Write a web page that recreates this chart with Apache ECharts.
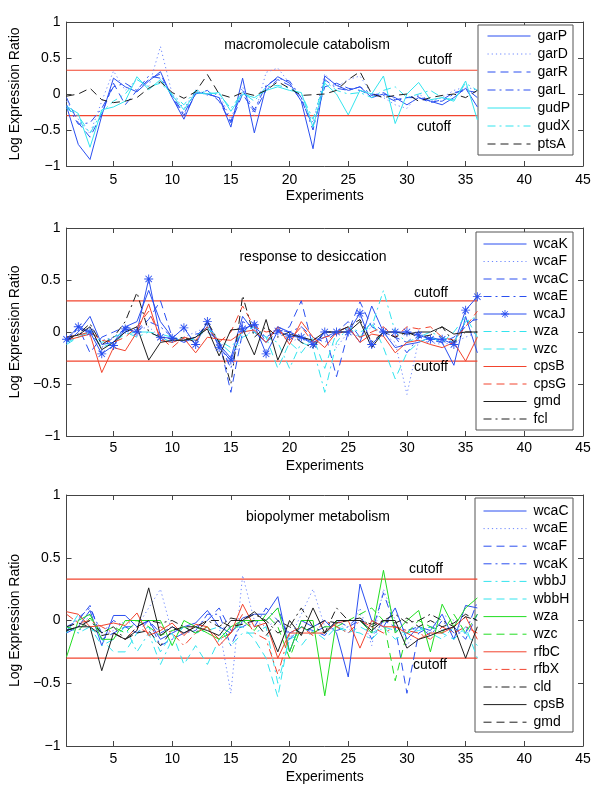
<!DOCTYPE html>
<html>
<head>
<meta charset="utf-8">
<script src="https://cdn.jsdelivr.net/npm/echarts@6/dist/echarts.min.js"></script>
<style>
html,body{margin:0;padding:0;background:#fff;}
#chart{width:600px;height:794px;}
</style>
</head>
<body>
<div id="chart"></div>
<script>
// ---------- data ----------
const experiments = [1,2,3,4,5,6,7,8,9,10,11,12,13,14,15,16,17,18,19,20,21,22,23,24,25,26,27,28,29,30,31,32,33,34,35,36];
const xTickValues = [5,10,15,20,25,30,35,40,45];
const yTickValues = [-1,-0.5,0,0.5,1];

const panelTitles = ['macromolecule catabolism','response to desiccation','biopolymer metabolism'];
const cutoffs1 = [0.33,-0.30];
const cutoffs2 = [0.30,-0.28];
const cutoffs3 = [0.33,-0.30];

// panel 1: macromolecule catabolism
const p1_garP = [-0.17,-0.70,-0.91,-0.30,0.22,0.10,0.03,0.18,0.31,-0.05,-0.35,0.02,0.00,-0.05,-0.46,0.22,-0.54,0.10,0.24,0.15,-0.10,-0.76,0.25,0.12,0.05,0.10,-0.05,0.00,-0.05,-0.15,-0.05,-0.10,-0.15,-0.05,0.08,-0.18];
const p1_garD = [-0.10,-0.35,-0.55,-0.10,0.32,0.05,0.20,0.10,0.66,0.00,-0.20,0.05,-0.02,0.00,-0.35,0.10,-0.30,0.30,0.36,0.15,-0.05,-0.40,0.28,0.10,0.20,0.25,0.00,-0.05,-0.15,-0.20,0.00,-0.10,-0.05,0.05,0.10,0.05];
const p1_garR = [-0.05,-0.40,-0.60,-0.28,0.15,-0.15,0.05,0.20,0.28,-0.05,-0.30,0.00,0.05,-0.10,-0.40,0.00,-0.25,0.05,0.20,0.12,-0.08,-0.45,0.10,0.15,0.08,0.05,-0.02,0.02,-0.08,-0.05,-0.05,-0.12,-0.08,0.02,0.05,0.02];
const p1_garL = [-0.15,-0.42,-0.40,-0.20,0.10,0.15,0.05,0.25,0.22,-0.02,-0.28,0.05,0.00,-0.05,-0.38,0.05,-0.22,0.12,0.22,0.18,-0.05,-0.50,0.20,0.08,0.05,0.10,0.00,-0.02,-0.10,-0.05,-0.03,-0.10,-0.10,0.00,0.08,-0.05];
const p1_gudP = [-0.17,-0.27,-0.74,-0.22,-0.18,-0.10,0.24,0.06,0.20,-0.02,-0.22,0.02,0.00,0.02,-0.24,0.00,-0.05,0.05,0.10,0.05,0.02,-0.46,0.15,0.00,-0.29,0.05,0.00,0.25,-0.41,0.00,0.16,-0.08,-0.05,-0.10,0.18,-0.36];
const p1_gudX = [-0.20,-0.30,-0.55,-0.25,-0.10,0.00,0.20,0.10,0.15,0.00,-0.15,0.05,0.02,0.00,-0.20,0.02,-0.10,0.10,0.12,0.08,0.00,-0.35,0.18,0.05,0.00,0.02,-0.05,0.05,0.10,-0.05,0.00,0.05,-0.05,-0.08,0.15,0.05];
const p1_ptsA = [-0.03,0.00,0.08,-0.08,-0.12,-0.10,-0.05,0.08,0.17,0.02,-0.06,0.03,0.27,0.00,-0.05,0.02,-0.02,0.05,0.17,0.08,-0.02,-0.01,0.00,0.05,0.20,0.31,0.00,-0.05,-0.02,0.00,-0.10,-0.05,-0.02,0.00,-0.05,0.05];

// panel 2: response to desiccation
const p2_wcaK = [-0.10,0.00,0.15,-0.12,-0.10,0.05,0.10,0.40,0.10,-0.05,-0.10,-0.05,0.05,-0.12,-0.25,0.15,0.00,-0.10,0.05,0.00,-0.05,-0.10,-0.05,0.00,0.05,-0.10,0.25,0.00,-0.15,-0.12,-0.10,-0.05,-0.10,-0.32,0.15,-0.20];
const p2_wcaF = [-0.05,0.02,0.00,-0.08,-0.05,0.00,0.02,0.05,-0.05,-0.10,-0.05,0.00,0.05,-0.10,-0.30,-0.05,0.02,-0.05,0.00,-0.10,-0.05,-0.08,-0.05,-0.15,0.00,-0.05,0.05,-0.02,-0.10,-0.60,-0.08,-0.10,-0.12,-0.10,-0.05,0.00];
const p2_wcaC = [-0.10,0.05,-0.20,-0.05,0.00,0.05,0.02,0.12,0.30,-0.05,-0.10,-0.02,0.00,-0.08,-0.58,0.00,0.10,-0.10,0.00,0.05,0.30,-0.15,0.00,-0.43,0.00,0.29,0.05,0.00,-0.05,-0.10,0.00,-0.08,-0.10,-0.05,0.05,0.15];
const p2_wcaE = [-0.08,0.03,0.00,-0.15,-0.05,0.03,0.00,0.10,0.05,-0.05,-0.08,-0.05,0.08,-0.10,-0.35,0.10,0.05,-0.05,0.02,0.00,0.05,-0.05,-0.10,0.00,0.10,-0.05,0.10,0.00,-0.05,-0.20,-0.05,-0.05,-0.08,-0.10,0.10,0.12];
const p2_wcaJ = [-0.07,0.05,0.00,-0.21,-0.13,0.03,0.00,0.51,-0.05,-0.06,0.04,-0.12,0.10,-0.15,-0.27,0.03,0.07,-0.21,0.01,-0.04,-0.05,-0.12,0.00,0.00,0.00,0.18,-0.12,0.00,0.00,0.00,-0.03,-0.07,-0.07,-0.12,0.21,0.34];
const p2_wza  = [-0.10,-0.05,0.00,-0.10,-0.05,0.00,-0.05,0.00,-0.02,-0.05,-0.08,-0.05,0.05,-0.08,-0.15,0.00,0.05,-0.05,-0.10,-0.35,-0.10,-0.15,-0.58,-0.10,0.05,0.00,0.05,0.40,0.00,-0.10,-0.05,0.00,-0.05,-0.10,0.10,0.15];
const p2_wzc  = [-0.12,-0.05,0.02,-0.15,-0.10,-0.02,0.00,0.00,-0.05,-0.10,-0.05,-0.08,0.05,-0.10,-0.20,-0.05,0.00,-0.05,-0.35,-0.10,-0.20,-0.05,-0.35,0.00,0.05,-0.05,0.10,-0.15,-0.45,-0.20,-0.10,-0.05,-0.10,0.00,0.15,-0.05];
const p2_cpsB = [-0.08,-0.05,-0.02,-0.39,-0.15,-0.18,0.00,0.27,-0.08,-0.10,-0.06,-0.20,-0.05,-0.07,-0.08,0.00,0.02,-0.10,0.05,-0.12,0.10,-0.05,-0.15,0.00,0.05,-0.10,-0.02,-0.04,-0.20,-0.10,-0.08,-0.12,-0.15,-0.10,-0.28,-0.05];
const p2_cpsG = [-0.05,-0.03,0.00,-0.08,-0.10,-0.05,0.05,0.20,-0.05,-0.15,-0.05,-0.08,0.05,-0.10,0.00,0.25,0.05,0.00,0.02,-0.08,0.05,-0.10,-0.05,-0.02,0.02,-0.05,0.00,0.05,-0.05,0.05,0.03,0.05,-0.05,-0.08,0.05,0.20];
const p2_gmd  = [-0.05,-0.03,0.05,-0.17,-0.10,0.00,0.05,-0.27,-0.10,-0.08,-0.08,-0.05,0.03,-0.23,0.02,0.03,-0.22,0.12,-0.27,-0.02,-0.05,-0.08,0.00,0.00,0.00,0.10,-0.15,0.00,0.00,-0.02,0.00,0.00,0.05,-0.02,0.00,0.00];
const p2_fcl  = [-0.08,-0.02,0.08,-0.12,-0.05,0.10,0.38,0.00,-0.05,-0.07,-0.05,-0.10,0.10,-0.10,-0.50,0.35,-0.05,0.05,-0.05,0.00,-0.10,-0.15,0.00,0.00,0.05,0.12,-0.10,0.00,-0.05,0.00,-0.05,-0.03,0.05,-0.10,0.00,0.00];

// panel 3: biopolymer metabolism
const p3_wcaC = [-0.10,-0.05,0.08,-0.20,0.04,0.04,-0.05,0.00,-0.15,-0.10,-0.05,-0.02,0.08,-0.05,-0.10,0.02,0.05,0.05,0.19,-0.25,0.00,-0.05,0.00,-0.10,-0.45,0.29,0.00,-0.05,0.10,-0.15,-0.05,-0.08,0.05,-0.15,0.12,0.10];
const p3_wcaE = [-0.05,-0.10,0.05,-0.12,-0.08,0.00,-0.05,0.10,0.25,-0.10,-0.05,-0.10,0.05,-0.05,-0.58,0.36,0.00,-0.05,0.00,-0.15,0.05,0.25,-0.05,0.00,-0.10,0.10,-0.20,0.25,0.00,-0.20,-0.05,-0.10,0.05,0.00,-0.10,0.05];
const p3_wcaF = [-0.05,0.00,0.12,-0.15,-0.10,-0.05,-0.10,0.00,-0.10,-0.05,-0.10,-0.05,0.00,0.10,-0.08,-0.05,0.00,0.00,0.10,-0.15,-0.05,-0.08,-0.12,0.00,-0.05,0.00,-0.10,0.22,-0.05,-0.58,-0.10,-0.05,-0.08,-0.05,-0.15,0.05];
const p3_wcaK = [-0.08,0.02,0.10,-0.10,0.00,-0.05,-0.05,0.00,-0.20,-0.15,-0.10,-0.08,0.05,0.05,-0.20,0.00,-0.05,0.10,0.00,-0.10,-0.05,-0.10,-0.05,-0.08,-0.05,0.05,-0.15,0.00,-0.05,-0.08,-0.05,-0.12,0.00,-0.10,-0.10,0.15];
const p3_wbbJ = [-0.05,-0.10,-0.05,-0.20,-0.15,-0.05,-0.25,-0.10,-0.35,-0.15,-0.05,-0.10,-0.08,-0.05,-0.20,-0.10,-0.10,-0.05,-0.50,-0.15,-0.10,-0.05,-0.10,-0.05,-0.08,-0.10,-0.15,-0.05,-0.08,-0.10,-0.05,-0.10,-0.15,-0.05,-0.10,-0.20];
const p3_wbbH = [-0.10,0.05,-0.05,-0.15,-0.25,-0.25,-0.10,-0.05,-0.25,-0.10,-0.35,-0.20,-0.35,-0.15,-0.05,-0.05,-0.15,-0.30,-0.61,-0.10,-0.20,-0.08,-0.15,-0.05,-0.10,-0.05,-0.10,-0.05,-0.15,-0.10,-0.08,-0.05,-0.10,-0.15,-0.05,-0.30];
const p3_wza  = [-0.29,0.00,0.05,-0.15,-0.15,0.00,0.00,0.00,0.00,-0.20,0.00,-0.05,-0.10,-0.15,-0.05,0.00,0.00,0.00,0.10,-0.25,0.00,0.00,-0.60,0.00,0.00,0.00,-0.10,0.40,-0.10,0.00,0.08,-0.25,0.13,-0.05,0.10,0.18];
const p3_wzc  = [-0.05,-0.08,0.02,-0.10,-0.05,-0.10,0.00,-0.05,-0.12,-0.08,-0.05,-0.10,-0.05,-0.15,-0.10,0.00,-0.08,0.05,-0.05,-0.30,-0.05,-0.10,-0.05,-0.05,0.00,0.05,0.10,0.00,-0.48,-0.10,0.00,-0.05,-0.10,0.05,-0.10,0.05];
const p3_rfbC = [0.07,0.05,-0.05,-0.04,-0.02,-0.04,0.06,-0.12,-0.08,-0.02,-0.12,-0.03,-0.05,-0.20,-0.10,0.13,-0.05,-0.02,-0.30,-0.10,-0.10,-0.10,-0.10,-0.02,0.00,-0.22,0.00,-0.05,-0.05,-0.10,-0.15,-0.10,-0.10,-0.05,0.03,-0.15];
const p3_rfbX = [0.05,-0.02,0.00,-0.05,-0.10,-0.15,-0.05,-0.10,-0.05,-0.10,-0.20,-0.10,-0.05,-0.15,-0.10,0.05,-0.10,-0.15,-0.43,-0.10,-0.05,-0.12,0.00,-0.05,-0.10,0.00,-0.05,-0.10,-0.05,-0.08,-0.10,-0.15,-0.05,-0.10,-0.05,-0.10];
const p3_cld  = [-0.08,-0.05,0.00,-0.10,-0.05,-0.15,-0.05,0.00,-0.02,0.00,-0.05,-0.10,0.00,-0.05,0.02,0.00,0.05,0.00,-0.10,-0.05,0.10,-0.05,-0.10,0.10,0.00,0.02,-0.05,0.00,0.05,-0.02,0.00,0.05,0.00,-0.05,0.03,0.00];
const p3_cpsB = [-0.08,-0.05,-0.05,-0.40,-0.10,-0.15,-0.08,0.26,-0.12,-0.05,-0.10,-0.05,-0.08,-0.12,0.00,0.00,0.07,-0.02,-0.25,0.00,-0.12,0.10,-0.10,0.00,0.00,0.00,-0.08,0.00,0.00,-0.22,-0.15,-0.12,-0.08,-0.05,-0.30,-0.05];
const p3_gmd  = [-0.05,-0.02,-0.05,-0.12,-0.10,-0.15,-0.10,-0.08,-0.20,-0.08,-0.05,-0.05,0.00,0.00,-0.05,-0.03,0.00,-0.12,0.00,-0.05,-0.10,-0.05,0.00,-0.02,0.00,0.00,-0.03,0.00,-0.02,0.02,-0.05,0.00,-0.05,-0.02,0.05,0.00];

// ---------- styling ----------
const FONT = '"Liberation Sans", Arial, Helvetica, sans-serif';
const BLUE = '#2a4ff0', LBLUE = '#6b86ff', CYAN = '#33e4ee', RED = '#f2442e', GREEN = '#22dd22', BLACK = '#1e1e1e';
const SOLID = 'solid', DOT = [1.2,3], DASH = [8,5], DASHDOT = [8,4,2,4];
const ASTER = 'path://M0 9L20 9L20 11L0 11Z M9 0L11 0L11 20L9 20Z M2.2 3.6L3.6 2.2L17.8 16.4L16.4 17.8Z M16.4 2.2L17.8 3.6L3.6 17.8L2.2 16.4Z';

const panels = [
  { cut: cutoffs1, series: [
    ['garP', p1_garP, BLUE, SOLID], ['garD', p1_garD, LBLUE, DOT], ['garR', p1_garR, BLUE, DASH],
    ['garL', p1_garL, BLUE, DASHDOT], ['gudP', p1_gudP, CYAN, SOLID], ['gudX', p1_gudX, CYAN, DASHDOT],
    ['ptsA', p1_ptsA, BLACK, DASH]]},
  { cut: cutoffs2, series: [
    ['wcaK', p2_wcaK, BLUE, SOLID], ['wcaF', p2_wcaF, LBLUE, DOT], ['wcaC', p2_wcaC, BLUE, DASH],
    ['wcaE', p2_wcaE, BLUE, DASHDOT], ['wcaJ', p2_wcaJ, BLUE, SOLID, true], ['wza', p2_wza, CYAN, DASHDOT],
    ['wzc', p2_wzc, CYAN, DASH], ['cpsB', p2_cpsB, RED, SOLID], ['cpsG', p2_cpsG, RED, DASH],
    ['gmd', p2_gmd, BLACK, SOLID], ['fcl', p2_fcl, BLACK, DASHDOT]]},
  { cut: cutoffs3, series: [
    ['wcaC', p3_wcaC, BLUE, SOLID], ['wcaE', p3_wcaE, LBLUE, DOT], ['wcaF', p3_wcaF, BLUE, DASH],
    ['wcaK', p3_wcaK, BLUE, DASHDOT], ['wbbJ', p3_wbbJ, CYAN, DASHDOT], ['wbbH', p3_wbbH, CYAN, DASH],
    ['wza', p3_wza, GREEN, SOLID], ['wzc', p3_wzc, GREEN, DASH], ['rfbC', p3_rfbC, RED, SOLID],
    ['rfbX', p3_rfbX, RED, DASHDOT], ['cld', p3_cld, BLACK, DASHDOT], ['cpsB', p3_cpsB, BLACK, SOLID],
    ['gmd', p3_gmd, BLACK, DASH]]}
];

const grids = [
  {left:63, top:22, width:520, height:144},
  {left:63, top:228, width:520, height:208},
  {left:63, top:495, width:520, height:251}
];
const legendPos = [
  {left:487, top:29, gap:4, box:[478,25,95,130]},
  {left:483, top:237, gap:3.5, box:[476,232,97,198]},
  {left:483, top:504, gap:3.6, box:[475,498,98,234]}
];
const titlePos = [[307,45],[313,257],[318,517]];
const cutLabelPos = [[[435,60],[434,127]],[[431,293],[431,367]],[[426,569],[430,665]]];
const xNameGap = [23,23,24];
const xLabelMargin = [7,5,6];

const fmtY = v => v < 0 ? '\u2212' + Math.abs(v) : String(v);
const pairs = arr => arr.map((v, i) => [experiments[i], v]);

const xAxis = [], yAxis = [], series = [], legend = [], graphic = [];
const AX = '#444';
panels.forEach((p, g) => {
  xAxis.push({gridIndex:g, type:'value', min:1, max:45, position:'bottom',
    name:'Experiments', nameLocation:'middle', nameGap:xNameGap[g],
    nameTextStyle:{fontFamily:FONT, fontSize:14, color:'#000'},
    axisLine:{onZero:false, lineStyle:{color:AX, width:1}},
    axisTick:{inside:true, length:5, customValues:xTickValues, lineStyle:{color:AX}},
    axisLabel:{customValues:xTickValues, margin:xLabelMargin[g], fontFamily:FONT, fontSize:14, color:'#000'},
    splitLine:{show:false}});
  xAxis.push({gridIndex:g, type:'value', min:1, max:45, position:'top',
    axisLine:{onZero:false, lineStyle:{color:AX, width:1}},
    axisTick:{inside:true, length:5, customValues:xTickValues, lineStyle:{color:AX}},
    axisLabel:{show:false}, splitLine:{show:false}});
  yAxis.push({gridIndex:g, type:'value', min:-1, max:1, interval:0.5, position:'left',
    name:'Log Expression Ratio', nameLocation:'middle', nameGap:40,
    nameTextStyle:{fontFamily:FONT, fontSize:14, color:'#000'},
    axisLine:{show:true, onZero:false, lineStyle:{color:AX, width:1}},
    axisTick:{show:true, inside:true, length:5, lineStyle:{color:AX}},
    axisLabel:{formatter:fmtY, margin:6, fontFamily:FONT, fontSize:14, color:'#000'},
    splitLine:{show:false}});
  yAxis.push({gridIndex:g, type:'value', min:-1, max:1, interval:0.5, position:'right',
    axisLine:{show:true, onZero:false, lineStyle:{color:AX, width:1}},
    axisTick:{show:true, inside:true, length:5, lineStyle:{color:AX}},
    axisLabel:{show:false}, splitLine:{show:false}});

  const xi = g * 2, yi = g * 2;
  // cutoff lines
  p.cut.forEach(c => {
    series.push({type:'line', name:'cutoff#' + g, xAxisIndex:xi, yAxisIndex:yi,
      data:[[experiments[0], c], [experiments[experiments.length - 1], c]],
      symbol:'none', silent:true, animation:false,
      lineStyle:{color:RED, width:1.2}});
  });
  const legendData = [];
  p.series.forEach(s => {
    const nm = s[0] + '#' + g;
    legendData.push({name:nm, itemStyle:{opacity: s[4] ? 1 : 0}});
    series.push({type:'line', name:nm, xAxisIndex:xi, yAxisIndex:yi, data:pairs(s[1]),
      symbol: s[4] ? ASTER : 'none', symbolSize: 9, showSymbol: !!s[4],
      animation:false, silent:true,
      itemStyle:{color:s[2]},
      lineStyle:{color:s[2], width:1, type:s[3]}});
  });
  const lp = legendPos[g];
  legend.push({orient:'vertical', left:lp.left, top:lp.top, padding:0,
    itemWidth:43, itemHeight:10, itemGap:lp.gap, selectedMode:false,
    data:legendData, formatter: n => n.split('#')[0],
    lineStyle:{width:1},
    textStyle:{fontFamily:FONT, fontSize:14, color:'#000', lineHeight:14, padding:[0,0,0,2]}});
  graphic.push({type:'rect', z:3, shape:{x:lp.box[0], y:lp.box[1], width:lp.box[2], height:lp.box[3]},
    style:{fill:'#fff', stroke:'#555', lineWidth:1}});
  graphic.push({type:'text', z:5, x:titlePos[g][0], y:titlePos[g][1],
    style:{text:panelTitles[g], font:'14px ' + FONT, fill:'#000', textAlign:'center', textVerticalAlign:'middle'}});
  cutLabelPos[g].forEach(pt => {
    graphic.push({type:'text', z:5, x:pt[0], y:pt[1],
      style:{text:'cutoff', font:'14px ' + FONT, fill:'#000', textAlign:'center', textVerticalAlign:'middle'}});
  });
});

const chart = echarts.init(document.getElementById('chart'), null, {renderer:'canvas'});
chart.setOption({
  backgroundColor:'#fff',
  animation:false,
  grid:grids,
  xAxis:xAxis, yAxis:yAxis,
  legend:legend,
  graphic:graphic,
  series:series
});
</script>
</body>
</html>
